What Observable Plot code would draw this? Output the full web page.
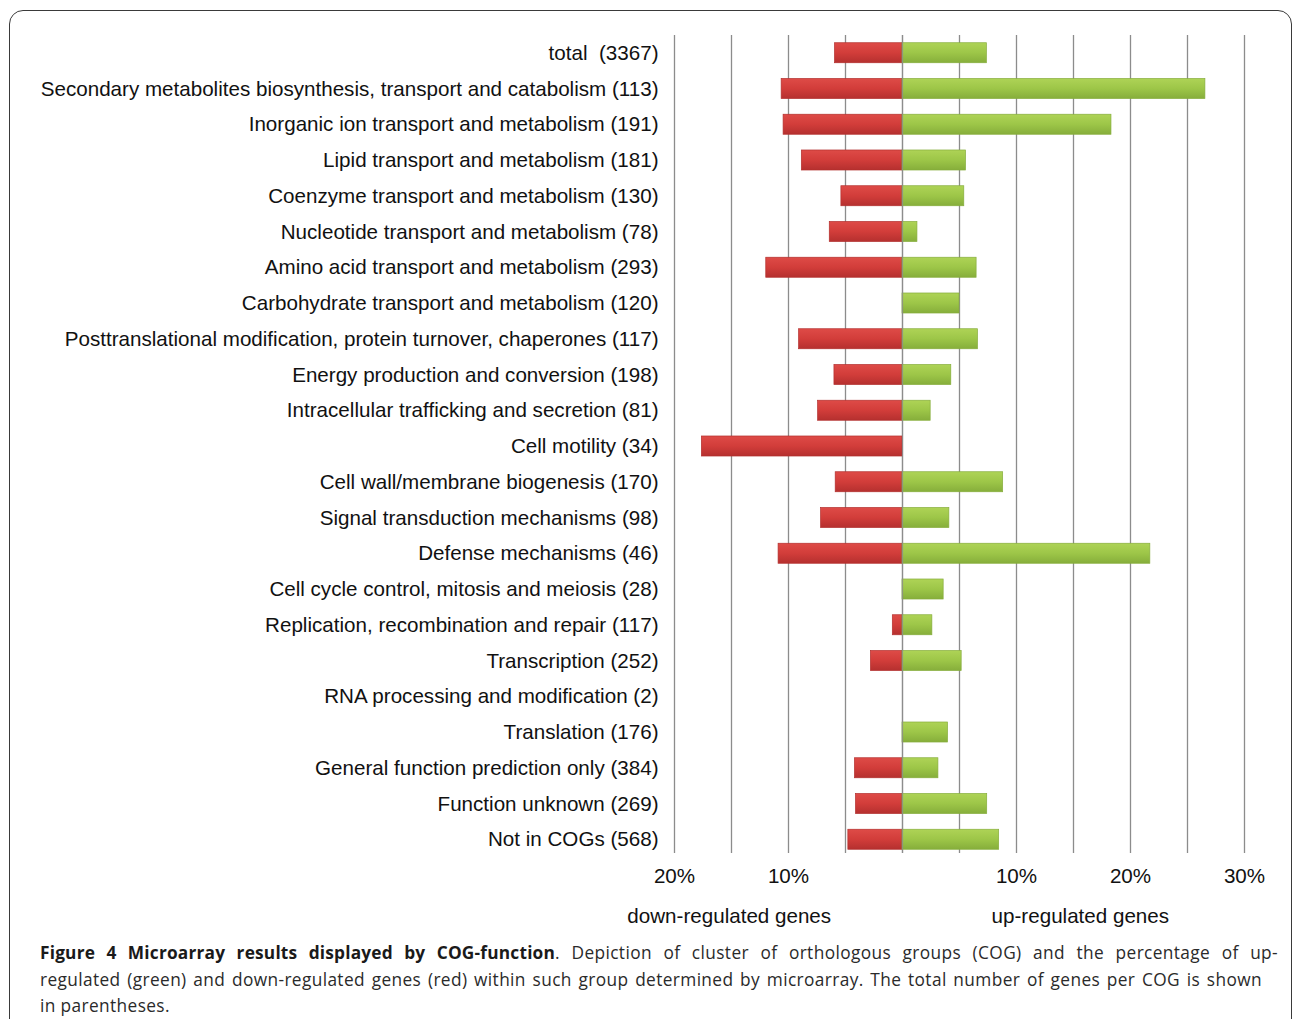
<!DOCTYPE html>
<html>
<head>
<meta charset="utf-8">
<script src="https://cdn.jsdelivr.net/npm/d3@7"></script>
<script src="https://cdn.jsdelivr.net/npm/@observablehq/plot@0.6"></script>
<style>
  html, body { margin: 0; padding: 0; background: #fff; }
  body { width: 1293px; height: 1019px; overflow: hidden; position: relative; }
  #frame { position: absolute; left: 9px; top: 10px; width: 1283px; height: 1100px;
           border: 1.6px solid #3a3a3a; border-radius: 14px; box-sizing: border-box; }
  #chart { position: absolute; left: 0; top: 0; }
  #caption { position: absolute; left: 40px; top: 940px; font-family: "Open Sans", sans-serif;
             font-size: 17.3px; letter-spacing: 0.38px; line-height: 26.5px; color: #2a2a2a; }
  #caption .line { display: block; white-space: nowrap; }
  #caption .line span.inner { display: inline-block; white-space: nowrap; }
  #caption b { color: #1a1a1a; letter-spacing: 0.2px; }
</style>
</head>
<body>
<div id="frame"></div>
<div id="chart"></div>
<div id="caption">
  <div class="line" data-target="1238"><span class="inner"><b>Figure 4 Microarray results displayed by COG-function</b>. Depiction of cluster of orthologous groups (COG) and the percentage of up-</span></div>
  <div class="line" data-target="1222"><span class="inner">regulated (green) and down-regulated genes (red) within such group determined by microarray. The total number of genes per COG is shown</span></div>
  <div class="line"><span class="inner">in parentheses.</span></div>
</div>
<script>
const categories = [
  "total  (3367)",
  "Secondary metabolites biosynthesis, transport and catabolism (113)",
  "Inorganic ion transport and metabolism (191)",
  "Lipid transport and metabolism (181)",
  "Coenzyme transport and metabolism (130)",
  "Nucleotide transport and metabolism (78)",
  "Amino acid transport and metabolism (293)",
  "Carbohydrate transport and metabolism (120)",
  "Posttranslational modification, protein turnover, chaperones (117)",
  "Energy production and conversion (198)",
  "Intracellular trafficking and secretion (81)",
  "Cell motility (34)",
  "Cell wall/membrane biogenesis (170)",
  "Signal transduction mechanisms (98)",
  "Defense mechanisms (46)",
  "Cell cycle control, mitosis and meiosis (28)",
  "Replication, recombination and repair (117)",
  "Transcription (252)",
  "RNA processing and modification (2)",
  "Translation (176)",
  "General function prediction only (384)",
  "Function unknown (269)",
  "Not in COGs (568)"
];
// percentage of down-regulated genes (drawn to the left)
const downPct = [5.92, 10.6, 10.43, 8.83, 5.36, 6.38, 11.95, 0, 9.07, 5.97, 7.4, 17.6,
                 5.86, 7.14, 10.87, 0, 0.85, 2.77, 0, 0, 4.17, 4.08, 4.75];
// percentage of up-regulated genes (drawn to the right)
const upPct = [7.4, 26.57, 18.33, 5.57, 5.42, 1.31, 6.5, 5.0, 6.62, 4.28, 2.47, 0,
               8.83, 4.11, 21.74, 3.61, 2.62, 5.19, 0, 3.99, 3.15, 7.43, 8.48];
const labelTicks = [-20, -10, 10, 20, 30];
const gridTicks = [-20, -15, -10, -5, 0, 5, 10, 15, 20, 25, 30];
const axisTitles = ["down-regulated genes", "up-regulated genes"];
const axisTitleX = [-15.2, 15.6];

const downRows = categories.map((c, i) => ({cat: c, v: -downPct[i]})).filter(d => d.v !== 0);
const upRows = categories.map((c, i) => ({cat: c, v: upPct[i]})).filter(d => d.v !== 0);

const chart = Plot.plot({
  width: 1293,
  height: 940,
  marginLeft: 674,
  marginRight: 49,
  marginTop: 27,
  marginBottom: 75,
  style: {fontFamily: "'Liberation Sans', Arial, sans-serif", fontSize: "20.6px", color: "#111", background: "transparent"},
  x: {domain: [-20, 30], ticks: labelTicks, tickFormat: d => Math.abs(d) + "%", tickSize: 0, tickPadding: 3, label: null},
  y: {domain: categories, padding: 0.44, round: false, tickSize: 0, tickPadding: 16, label: null},
  marks: [
    Plot.ruleX(gridTicks, {stroke: "#8c8c8c", strokeWidth: 1.3, insetTop: 8, insetBottom: 12}),
    Plot.barX(downRows, {y: "cat", x1: 0, x2: "v", fill: "url(#gDown)", stroke: "#b3302e", strokeWidth: 0.7}),
    Plot.barX(upRows, {y: "cat", x1: 0, x2: "v", fill: "url(#gUp)", stroke: "#86ad3c", strokeWidth: 0.7}),
    Plot.ruleX([0], {stroke: "#8c8c8c", strokeWidth: 1.2, strokeOpacity: 0.8, insetTop: 8, insetBottom: 12}),
    Plot.text(axisTitles, {x: axisTitleX, text: d => d, frameAnchor: "bottom", dy: 57, fontSize: 20.6, fill: "#111"})
  ]
});

d3.select(chart).insert("defs", ":first-child").html(`
  <linearGradient id="gDown" x1="0" y1="0" x2="0" y2="1">
    <stop offset="0" stop-color="#de4b47"/>
    <stop offset="0.5" stop-color="#d23d3a"/>
    <stop offset="1" stop-color="#b5302f"/>
  </linearGradient>
  <linearGradient id="gUp" x1="0" y1="0" x2="0" y2="1">
    <stop offset="0" stop-color="#aed356"/>
    <stop offset="0.5" stop-color="#9dc648"/>
    <stop offset="1" stop-color="#86ae3b"/>
  </linearGradient>`);

document.getElementById("chart").appendChild(chart);

// justify caption lines to the reference widths by adjusting word spacing
function fitCaption() {
  document.querySelectorAll("#caption .line[data-target]").forEach(line => {
    const inner = line.querySelector(".inner");
    inner.style.wordSpacing = "0px";
    const natural = inner.getBoundingClientRect().width;
    const target = +line.dataset.target;
    const spaces = (inner.textContent.trim().match(/\s+/g) || []).length;
    if (spaces > 0) inner.style.wordSpacing = ((target - natural) / spaces) + "px";
  });
}
fitCaption();
if (document.fonts && document.fonts.ready) document.fonts.ready.then(fitCaption);
</script>
</body>
</html>
